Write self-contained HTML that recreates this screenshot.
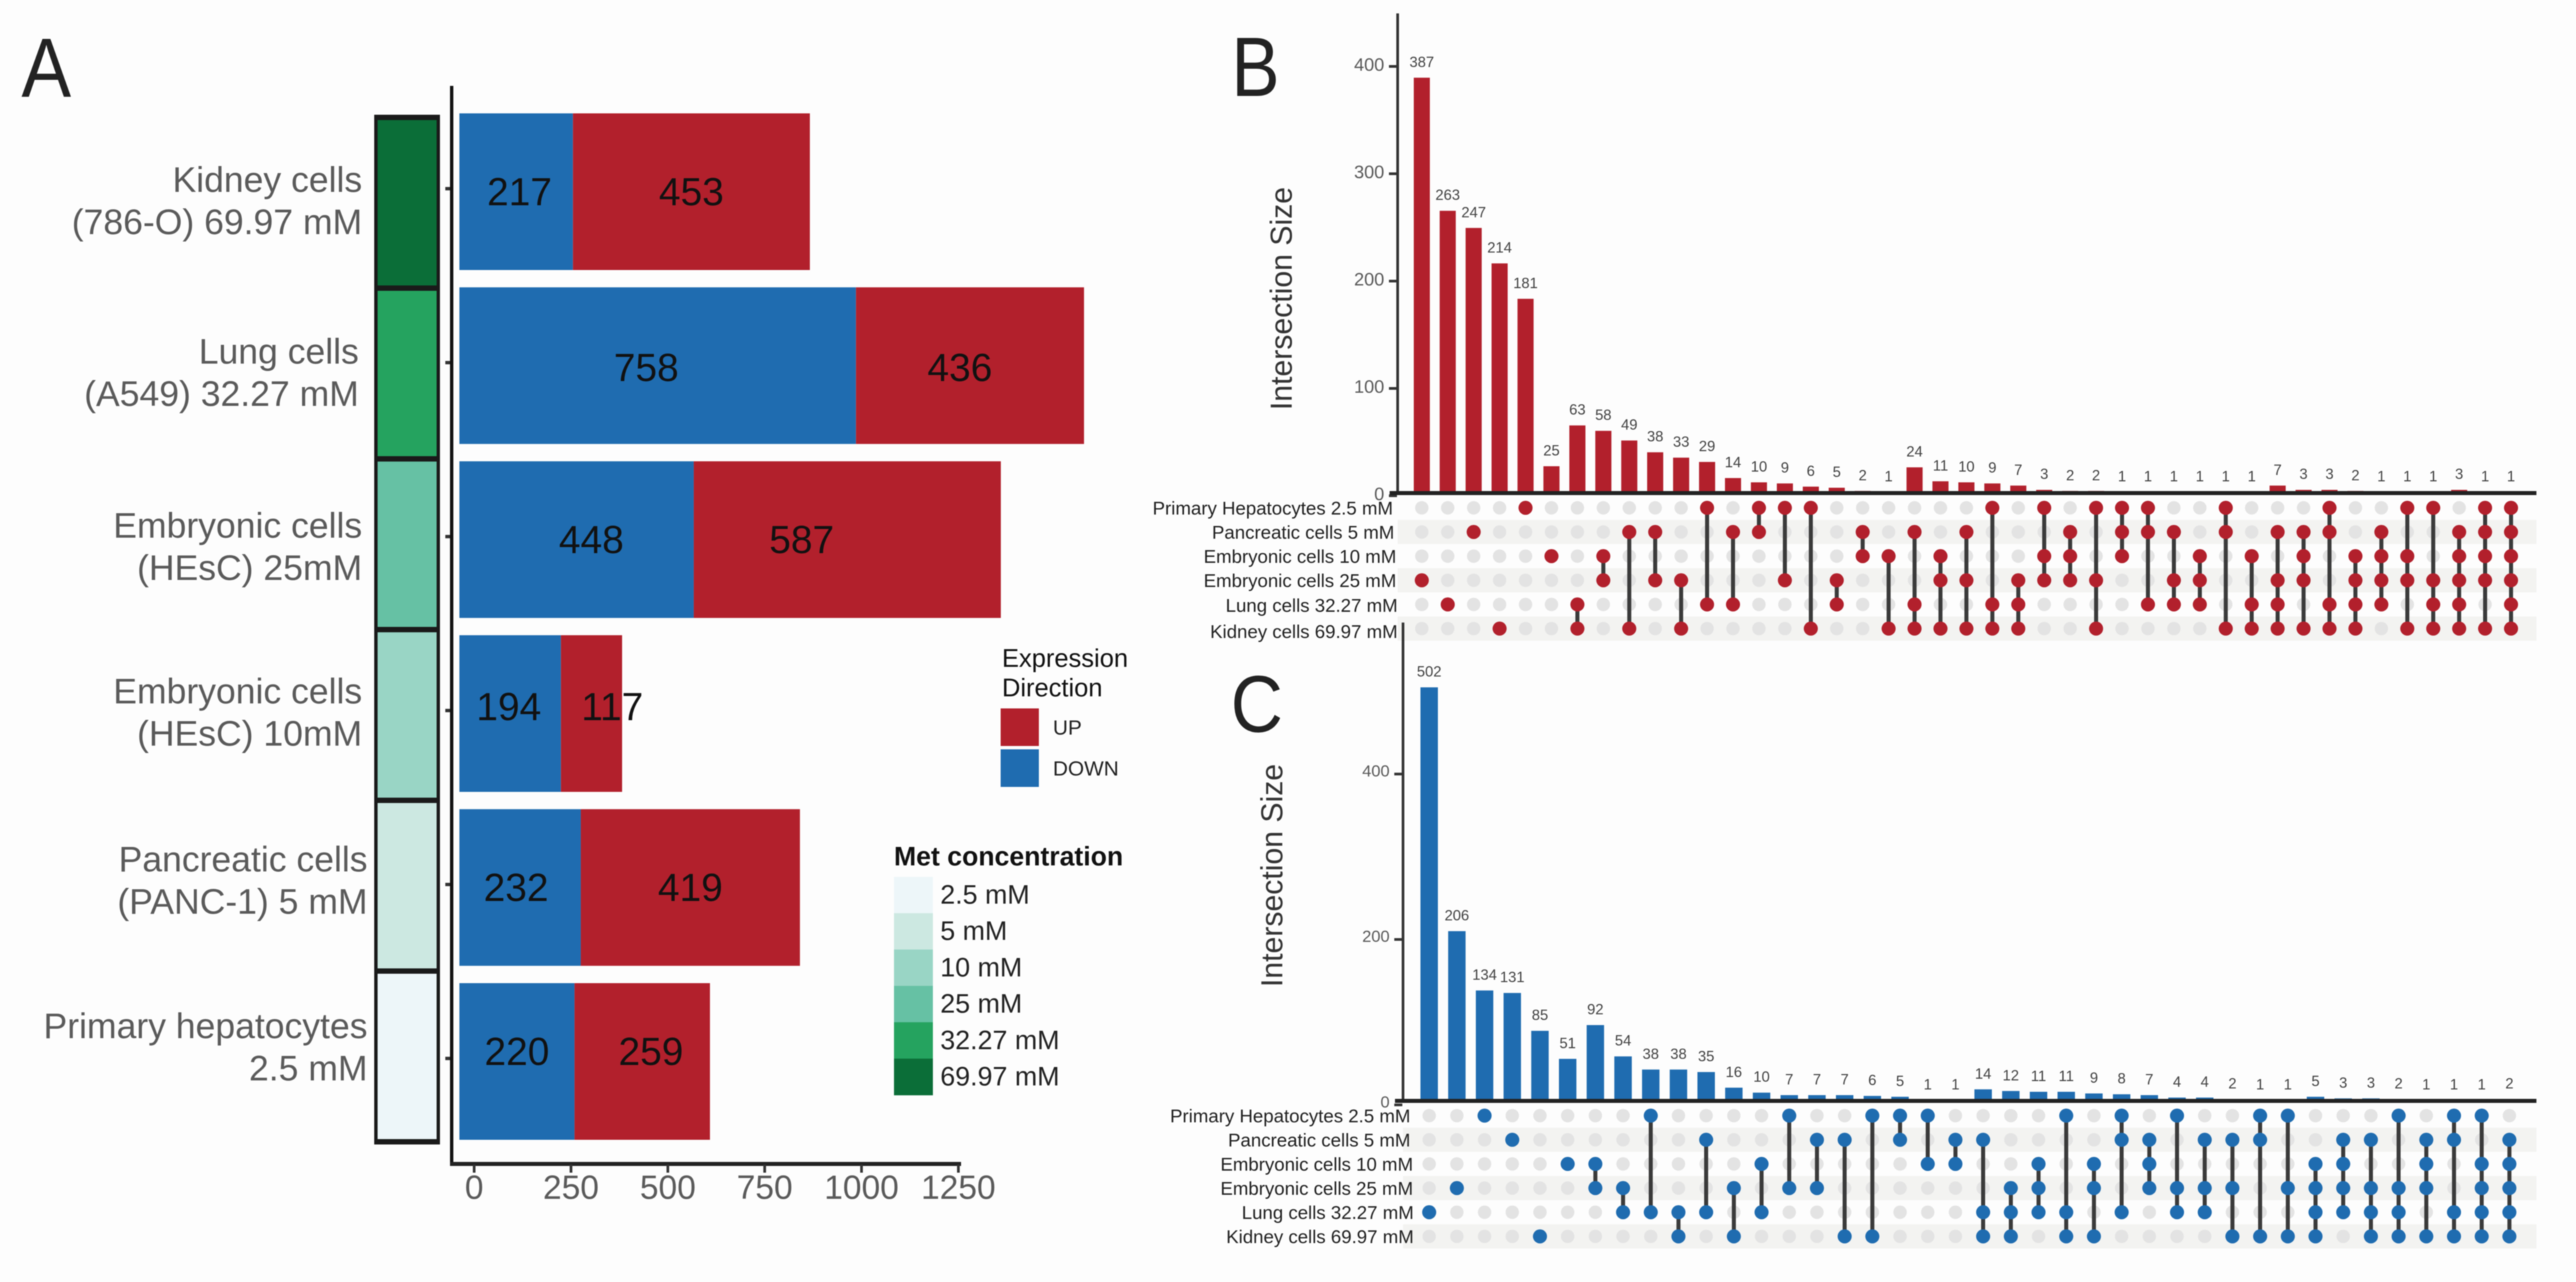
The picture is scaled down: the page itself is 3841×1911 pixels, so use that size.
<!DOCTYPE html>
<html lang="en">
<head>
<meta charset="utf-8">
<title>Differential expression across metformin concentrations</title>
<style>
html,body{margin:0;padding:0;background:#fdfdfd;width:3841px;height:1911px;overflow:hidden;}
svg{display:block;filter:blur(0.7px);}
text{font-family:"Liberation Sans",sans-serif;}
</style>
</head>
<body>
<svg id="figure" xmlns="http://www.w3.org/2000/svg" width="3841" height="1911" viewBox="0 0 3841 1911">
<rect x="0" y="0" width="3841" height="1911" fill="#fdfdfd"/>
<g id="panelA"></g>
<g id="panelB"></g>
<g id="panelC"></g>
<text x="32" y="144" font-size="125" fill="#222" textLength="74" lengthAdjust="spacingAndGlyphs">A</text>
<text x="1836" y="143" font-size="125" fill="#222" textLength="72" lengthAdjust="spacingAndGlyphs">B</text>
<text x="1835" y="1091" font-size="120" fill="#222" textLength="78" lengthAdjust="spacingAndGlyphs">C</text>
<g>
  <text x="1494" y="994" font-size="38" fill="#111">Expression</text>
  <text x="1494" y="1038" font-size="38" fill="#111">Direction</text>
  <rect x="1492" y="1056" width="57" height="56" fill="#b2202c"/>
  <rect x="1492" y="1117" width="57" height="56" fill="#1f6cb0"/>
  <text x="1570" y="1095" font-size="31" fill="#222">UP</text>
  <text x="1570" y="1156" font-size="31" fill="#222">DOWN</text>
</g>
<g id="metLegend">
  <text x="1333" y="1290" font-size="39.7" font-weight="bold" fill="#111">Met concentration</text>
</g>
</svg>
<script>
// Panel A data (top to bottom)
const aCellLine1 = ["Kidney cells", "Lung cells", "Embryonic cells", "Embryonic cells", "Pancreatic cells", "Primary hepatocytes"];
const aCellLine2 = ["(786-O) 69.97 mM", "(A549) 32.27 mM", "(HEsC) 25mM", "(HEsC) 10mM", "(PANC-1) 5 mM", "2.5 mM"];
const aDown = [217, 758, 448, 194, 232, 220];
const aUp = [453, 436, 587, 117, 419, 259];
const aTicks = [0, 250, 500, 750, 1000, 1250];
const concColors = ["#0b6e38", "#25a35f", "#66c1a4", "#99d5c5", "#cce8e1", "#edf6f9"];
const legendLabels = ["2.5 mM", "5 mM", "10 mM", "25 mM", "32.27 mM", "69.97 mM"];
const legendColors = ["#edf6f9", "#cce8e1", "#99d5c5", "#66c1a4", "#25a35f", "#0b6e38"];

// UpSet data, shared set names
const setNames = ["Primary Hepatocytes 2.5 mM", "Pancreatic cells 5 mM", "Embryonic cells 10 mM", "Embryonic cells 25 mM", "Lung cells 32.27 mM", "Kidney cells 69.97 mM"];

// Panel B (up-regulated)
const bTicks = [0, 100, 200, 300, 400];
const bValues = [387,263,247,214,181,25,63,58,49,38,33,29,14,10,9,6,5,2,1,24,11,10,9,7,3,2,2,1,1,1,1,1,1,7,3,3,2,1,1,1,3,1,1];
const bSets = [[3],[4],[1],[5],[0],[2],[4,5],[2,3],[1,5],[1,3],[3,5],[0,4],[1,4],[0,1],[0,3],[0,5],[3,4],[1,2],[2,5],
 [1,4,5],[2,3,5],[1,3,5],[0,4,5],[3,4,5],[0,2,3],[1,2,3],[0,3,5],[0,1,2],[0,1,4],[1,3,4],[2,3,4],[0,1,5],[2,4,5],
 [1,3,4,5],[1,2,3,5],[0,1,4,5],[2,3,4,5],[1,2,3,4],[0,2,3,5],[0,3,4,5],[1,2,3,4,5],[0,1,2,3,5],[0,1,2,3,4,5]];

// Panel C (down-regulated)
const cTicks = [0, 200, 400];
const cValues = [502,206,134,131,85,51,92,54,38,38,35,16,10,7,7,7,6,5,1,1,14,12,11,11,9,8,7,4,4,2,1,1,5,3,3,2,1,1,1,2];
const cSets = [[4],[3],[0],[1],[5],[2],[2,3],[3,4],[0,4],[4,5],[1,4],[3,5],[2,4],[0,3],[1,3],[1,5],[0,5],[0,1],[0,2],[1,2],
 [1,4,5],[3,4,5],[2,3,4],[0,4,5],[2,3,5],[0,1,4],[1,2,3],[0,3,4],[1,3,4],[1,3,5],[0,1,5],[0,3,5],
 [2,3,4,5],[1,2,3,4],[1,3,4,5],[0,3,4,5],[1,2,3,5],[0,1,4,5],[0,2,3,4,5],[1,2,3,4,5]];

const RED = "#b2202c";
const BLUE = "#1f6cb0";
const NS = "http://www.w3.org/2000/svg";

function add(parent, tag, attrs, txt) {
  const el = document.createElementNS(NS, tag);
  for (const k in attrs) el.setAttribute(k, attrs[k]);
  if (txt !== undefined) el.textContent = txt;
  parent.appendChild(el);
  return el;
}

function drawPanelA() {
  const g = document.getElementById("panelA");
  const xBar = v => 685 + 0.78 * v;
  const xTick = v => 707 + 0.5776 * v;
  const yBar = i => 169 + 259.3 * i;
  const barH = 233.5;
  const yStrip = i => 175 + 254.5 * i;
  const nudgeDownX = [5, -17, 22, -2, -6, 0];
  const nudgeUpX = [0, -15, -68, 31, 0, 13];
  const nudgeTextY = [-1, 2, -1, -11, -1, -16];
  const nudgeNameY = [0, -3, -3, -15, -24, -35];
  const nameRight = [540, 535, 540, 540, 548, 548];

  aDown.forEach((d, i) => {
    const u = aUp[i];
    const y = yBar(i);
    const xa = xBar(0), xb = xBar(d), xc = xBar(d + u);
    const strip = add(g, "rect", {x: 560, y: yStrip(i), width: 93, height: yStrip(i + 1) - yStrip(i), fill: concColors[i]});
    
    

    const l1 = add(g, "text", {x: nameRight[i], y: y + barH / 2 + nudgeNameY[i], "font-size": 53, fill: "#5a5a5a", "text-anchor": "end"}, aCellLine1[i]);
    
    
    const l2 = add(g, "text", {x: nameRight[i], y: y + barH / 2 + nudgeNameY[i] + 63, "font-size": 53, fill: "#5a5a5a", "text-anchor": "end"}, aCellLine2[i]);
    
    

    const downBar = add(g, "rect", {x: xa, y: y, width: xb - xa, height: barH, fill: BLUE});
    
    
    const upBar = add(g, "rect", {x: xb, y: y, width: xc - xb, height: barH, fill: RED});
    
    

    const cy = y + barH / 2 + nudgeTextY[i] + 21;
    const t1 = add(g, "text", {x: (xa + xb) / 2 + nudgeDownX[i], y: cy, "font-size": 58, fill: "#111", "text-anchor": "middle"}, String(d));
    
    
    const t2 = add(g, "text", {x: (xb + xc) / 2 + nudgeUpX[i], y: cy, "font-size": 58, fill: "#111", "text-anchor": "middle"}, String(u));
    
    

    const tk = add(g, "rect", {x: 664, y: y + barH / 2 - 7, width: 8, height: 5, fill: "#333"});
    
    
  });

  for (let i = 0; i <= aDown.length; i++) {
    const sep = add(g, "rect", {x: 558, y: yStrip(i) - 4, width: 97, height: 8, fill: "#1a1a1a"});
    
    
  }
  [558, 651].forEach(x => {
    const side = add(g, "rect", {x: x, y: yStrip(0) - 4, width: 5, height: yStrip(aDown.length) - yStrip(0) + 8, fill: "#1a1a1a"});
    
    
  });

  const yAxis = add(g, "rect", {x: 671, y: 128, width: 5, height: 1610, fill: "#111"});
  
  
  const xAxis = add(g, "rect", {x: 671, y: 1732, width: 762, height: 6, fill: "#222"});
  
  

  aTicks.forEach(v => {
    const tk = add(g, "rect", {x: xTick(v) - 2, y: 1736, width: 4, height: 12, fill: "#333"});
    
    
    const lb = add(g, "text", {x: xTick(v), y: 1787, "font-size": 50, fill: "#5a5a5a", "text-anchor": "middle"}, String(v));
    
    
  });
}

function drawLegend() {
  const g = document.getElementById("metLegend");
  const y0 = 1307, h = 54.2;
  legendLabels.forEach((lab, i) => {
    const sw = add(g, "rect", {x: 1333, y: y0 + h * i, width: 58, height: h + 0.5, fill: legendColors[i]});
    
    
    const t = add(g, "text", {x: 1402, y: y0 + h * i + 40, "font-size": 40, fill: "#222"}, lab);
    
    
  });
}

function drawUpset(g, values, sets, ticks, o) {
  const xc = i => o.x0 + o.dx * i;
  const yVal = v => o.yZero - o.k * v;
  const yTick = v => o.tickZero - o.tickK * v;
  const yLabel = v => o.labelZero - o.tickK * v;
  const yRow = r => o.rowY0 + 36 * r;

  // stripes
  setNames.forEach((_, r) => {
    if (r % 2 === 1) {
      const s = add(g, "rect", {x: o.axisX, y: yRow(r) - 18, width: 3782 - o.axisX, height: 36, fill: "#f3f3f1"});
      
      
    }
  });

  // axis title
  const title = add(g, "text", {x: 0, y: 0, "font-size": 45, fill: "#333", "text-anchor": "middle",
    transform: "translate(" + o.titleX + "," + o.titleY + ") rotate(-90)"}, "Intersection Size");
  
  

  // y axis
  const ax = add(g, "rect", {x: o.axisX - 2, y: o.axisTop, width: 4, height: o.axisBottom - o.axisTop, fill: "#333"});
  
  
  ticks.forEach(v => {
    const tk = add(g, "rect", {x: o.axisX - 13, y: yTick(v) - 2, width: 12, height: 4, fill: "#333"});
    
    
    const lb = add(g, "text", {x: o.axisX - 20, y: yLabel(v) + o.tickFont * 0.36, "font-size": o.tickFont, fill: "#5a5a5a", "text-anchor": "end"}, String(v));
    
    
  });

  // bars + labels
  values.forEach((v, i) => {
    const bar = add(g, "rect", {x: xc(i) - o.barW / 2, y: yVal(v), width: o.barW, height: o.yZero - yVal(v), fill: o.color});
    
    
    const t = add(g, "text", {x: xc(i), y: yVal(v) - 16, "font-size": 22, fill: "#444", "text-anchor": "middle"}, String(v));
    
    
  });

  // baseline
  const base = add(g, "rect", {x: o.axisX - 12, y: o.yZero - 3, width: 3782 - o.axisX + 12, height: 6, fill: "#222"});
  
  

  // set labels
  setNames.forEach((name, r) => {
    const t = add(g, "text", {x: o.labelRight[r], y: yRow(r) + 10 + o.labelNudge[r], "font-size": 27.8, fill: "#222", "text-anchor": "end"}, name);
    
    
  });

  // matrix
  values.forEach((_, i) => {
    const members = sets[i];
    setNames.forEach((__, r) => {
      if (members.indexOf(r) < 0) {
        const d = add(g, "circle", {cx: xc(i), cy: yRow(r), r: 10, fill: "#e3e3e3"});
        
        
      }
    });
    if (members.length > 1) {
      const ln = add(g, "line", {x1: xc(i), x2: xc(i), y1: yRow(Math.min.apply(null, members)), y2: yRow(Math.max.apply(null, members)), stroke: "#3a3a3a", "stroke-width": 6});
      
      
    }
    members.forEach(r => {
      const d = add(g, "circle", {cx: xc(i), cy: yRow(r), r: 10.5, fill: o.color});
      
      
    });
  });
}

drawPanelA();
drawLegend();
drawUpset(document.getElementById("panelB"), bValues, bSets, bTicks, {
  color: RED, x0: 2120, dx: 38.67, barW: 24, yZero: 735, k: 1.6,
  tickZero: 739, labelZero: 736, tickK: 1.6, tickFont: 27,
  axisX: 2084, axisTop: 20, axisBottom: 738, rowY0: 757,
  titleX: 1926, titleY: 445,
  labelRight: [2077, 2079, 2082, 2082, 2084, 2084],
  labelNudge: [0, 0, 0, 0, 1, 4]
});
drawUpset(document.getElementById("panelC"), cValues, cSets, cTicks, {
  color: BLUE, x0: 2131, dx: 41.3, barW: 26, yZero: 1641, k: 1.228,
  tickZero: 1647, labelZero: 1642, tickK: 1.233, tickFont: 24.5,
  axisX: 2092, axisTop: 928, axisBottom: 1644, rowY0: 1663,
  titleX: 1912, titleY: 1305,
  labelRight: [2103, 2103, 2107, 2107, 2108, 2108],
  labelNudge: [0, 0, 0, 0, 0, 0]
});
</script>
</body>
</html>
